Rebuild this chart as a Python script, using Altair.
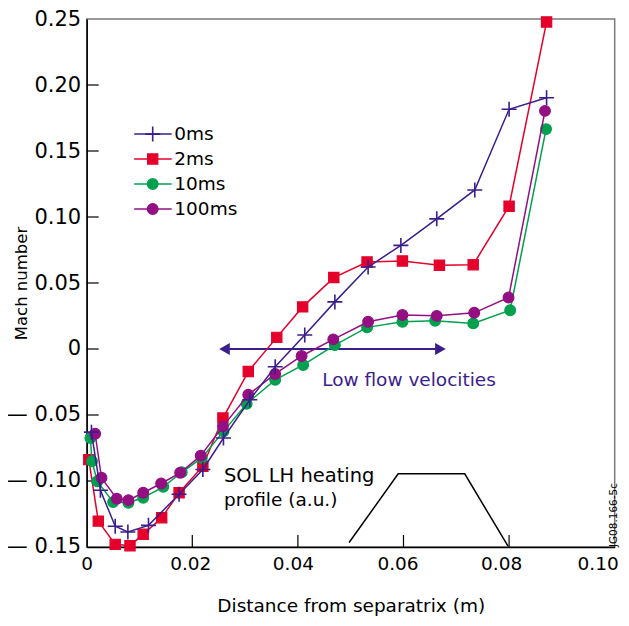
import altair as alt
import pandas as pd

# ---------------- data ----------------
series_names = ["0ms", "2ms", "10ms", "100ms"]
series_colors = ["#3b1e8c", "#e4002b", "#00a04e", "#930f82"]

x_0ms = [0.0009, 0.0026, 0.0054, 0.0078, 0.0117, 0.0175, 0.0220, 0.0259, 0.0309, 0.0357,
         0.0413, 0.0470, 0.0533, 0.0595, 0.0663, 0.0735, 0.0800, 0.0871]
y_0ms = [-0.063, -0.107, -0.1343, -0.1386, -0.1336, -0.110, -0.0913, -0.0674, -0.0385, -0.0134,
         0.0106, 0.0357, 0.0621, 0.0785, 0.0986, 0.1205, 0.1816, 0.1904]

x_2ms = [0.0004, 0.0022, 0.0054, 0.0082, 0.0107, 0.0142, 0.0175, 0.0220, 0.0258, 0.0306,
         0.0360, 0.0409, 0.0468, 0.0531, 0.0598, 0.0668, 0.0732, 0.0800, 0.0871]
y_2ms = [-0.0838, -0.1304, -0.148, -0.149, -0.1404, -0.1278, -0.1089, -0.0888, -0.0523, -0.0171,
         0.0088, 0.0319, 0.0541, 0.0659, 0.0667, 0.0634, 0.0639, 0.1082, 0.2478]

x_10ms = [0.0007, 0.0010, 0.0020, 0.0050, 0.0079, 0.0107, 0.0145, 0.0180, 0.0218, 0.0259,
          0.0303, 0.0357, 0.0410, 0.0470, 0.0531, 0.0598, 0.0660, 0.0732, 0.0802, 0.0870]
y_10ms = [-0.0674, -0.0851, -0.1002, -0.116, -0.1165, -0.1127, -0.1044, -0.0934, -0.0825, -0.0624,
          -0.0415, -0.0234, -0.0121, 0.003, 0.0164, 0.0206, 0.0214, 0.0194, 0.0294, 0.1666]

x_100ms = [0.0016, 0.0028, 0.0057, 0.0079, 0.0107, 0.0141, 0.0177, 0.0216, 0.0258, 0.0306,
           0.0357, 0.0407, 0.0467, 0.0533, 0.0598, 0.0663, 0.0734, 0.0799, 0.0868]
y_100ms = [-0.0642, -0.0976, -0.1134, -0.1145, -0.1089, -0.1019, -0.0938, -0.0808, -0.0586, -0.0347,
           -0.0189, -0.0053, 0.0073, 0.0206, 0.0257, 0.0251, 0.0274, 0.039, 0.1804]

heat_x = [0.0497, 0.0590, 0.0716, 0.0798]
heat_y = [-0.1466, -0.0946, -0.0946, -0.1494]

arrow_x = [0.0255, 0.0675]
arrow_y = [0.0, 0.0]

x_ticks = [0.0, 0.02, 0.04, 0.06, 0.08, 0.10]
y_ticks = [-0.15, -0.10, -0.05, 0.0, 0.05, 0.10, 0.15, 0.20, 0.25]

FONT = "DejaVu Sans"
INDIGO = "#3b1e8c"
PLUS = "M-1,0H1M0,-1V1"

# ---------------- encodings ----------------
X = alt.X(
    "x:Q",
    scale=alt.Scale(domain=[0, 0.1], nice=False, zero=False),
    axis=alt.Axis(
        values=x_ticks, ticks=False, grid=False, labelFlush=False,
        labelExpr="datum.value == 0 ? '0' : format(datum.value, '.2f')",
        labelOffset={"condition": [
            {"test": "datum.value > 0.09", "value": -17},
            {"test": "datum.value > 0.07", "value": -8},
            {"test": "datum.value > 0.05", "value": -6},
            {"test": "datum.value > 0.03", "value": -5},
            {"test": "datum.value > 0.01", "value": -2},
        ], "value": 0},
        labelFont=FONT, labelFontSize=18.5, labelColor="black", labelPadding=8,
        domainColor="black", domainWidth=1.5,
        title="Distance from separatrix (m)", titleFont=FONT, titleFontSize=18.5,
        titleFontWeight="normal", titleColor="black",
        titleX=264, titleY=59, titleBaseline="middle", titleAlign="center",
    ),
)
Y = alt.Y(
    "y:Q",
    scale=alt.Scale(domain=[-0.15, 0.25], nice=False, zero=False),
    axis=alt.Axis(
        values=y_ticks, ticks=False, grid=False, labelFlush=False,
        labelExpr="datum.value == 0 ? '0' : (datum.value < 0 ? '\u2014\u2008' + format(-datum.value, '.2f') : format(datum.value, '.2f'))",
        labelFont=FONT, labelFontSize=21, labelColor="black", labelPadding=6,
        domainColor="black", domainWidth=1.5,
        title="Mach number", titleFont=FONT, titleFontSize=16.5,
        titleFontWeight="normal", titleColor="black",
        titleX=-64.7, titleY=264, titleBaseline="middle", titleAlign="center", titleAngle=270,
    ),
)

layers = []

# inward tick marks
xt = pd.DataFrame({"x": x_ticks[1:-1]})
yt = pd.DataFrame({"y": y_ticks[1:-1]})
layers.append(alt.Chart(xt).mark_rule(color="black", strokeWidth=1.2).encode(
    x=X, y=alt.value(528), y2=alt.value(516)))
layers.append(alt.Chart(yt).mark_rule(color="black", strokeWidth=1.2).encode(
    y=Y, x=alt.value(0), x2=alt.value(12)))

# heating profile
heat = pd.DataFrame({"x": heat_x, "y": heat_y, "i": list(range(len(heat_x)))})
layers.append(alt.Chart(heat).mark_line(color="black", strokeWidth=1.5).encode(
    x=X, y=Y, order="i:Q"))

# arrow
arr = pd.DataFrame({"x": arrow_x, "y": arrow_y})
layers.append(alt.Chart(arr).mark_line(color=INDIGO, strokeWidth=2).encode(x=X, y=Y))
heads = pd.DataFrame({"x": [0.0261, 0.0670], "y": arrow_y,
                      "s": ["triangle-left", "triangle-right"]})
layers.append(alt.Chart(heads).mark_point(filled=True, color=INDIGO, size=150, opacity=1).encode(
    x=X, y=Y,
    shape=alt.Shape("s:N", scale=alt.Scale(domain=["triangle-left", "triangle-right"],
                                            range=["triangle-left", "triangle-right"]), legend=None)))

# series
series_data = {
    "0ms": (x_0ms, y_0ms, PLUS, 225),
    "2ms": (x_2ms, y_2ms, "square", 105),
    "10ms": (x_10ms, y_10ms, "circle", 115),
    "100ms": (x_100ms, y_100ms, "circle", 115),
}
color_of = dict(zip(series_names, series_colors))


def point_mark(shape, size, color):
    if shape == PLUS:
        return dict(shape=shape, filled=False, color=color, strokeWidth=1.6, size=size, opacity=1)
    return dict(shape=shape, filled=True, fill=color, stroke=color, strokeWidth=1.2, size=size, opacity=1)


for name in ["2ms", "10ms", "100ms", "0ms"]:
    xs, ys, shape, size = series_data[name]
    color = color_of[name]
    df = pd.DataFrame({"x": xs, "y": ys, "i": list(range(len(xs)))})
    base = alt.Chart(df)
    layers.append(base.mark_line(color=color, strokeWidth=1.5).encode(x=X, y=Y, order="i:Q"))
    layers.append(base.mark_point(**point_mark(shape, size, color)).encode(x=X, y=Y))

# legend (inside plot)
for k, name in enumerate(series_names):
    xs, ys, shape, size = series_data[name]
    color = color_of[name]
    ldf = pd.DataFrame({"label": [name]})
    ly = 0.1628 - 0.0189 * k
    lb = alt.Chart(ldf).transform_calculate(y=f"{ly}")
    layers.append(lb.transform_calculate(x="0.0090", x2="0.0161").mark_rule(
        color=color, strokeWidth=1.5).encode(x=X, x2="x2:Q", y=Y))
    layers.append(lb.transform_calculate(x="0.0125").mark_point(
        **point_mark(shape, size, color)).encode(x=X, y=Y))
    layers.append(lb.transform_calculate(x="0.0166").mark_text(
        align="left", baseline="middle", font=FONT, fontSize=18.5, color="black").encode(
        x=X, y=Y, text="label:N"))

# annotations
ann = pd.DataFrame({
    "x": [0.0446, 0.0260, 0.0260],
    "y": [-0.0232, -0.0965, -0.1144],
    "t": ["Low flow velocities", "SOL LH heating", "profile (a.u.)"],
    "c": ["low", "sol", "sol"],
    "s": [18.5, 19.5, 18.5],
})
layers.append(alt.Chart(ann).mark_text(
    align="left", baseline="middle", font=FONT).encode(
    x=X, y=Y, text="t:N",
    size=alt.Size("s:Q", scale=None, legend=None),
    color=alt.Color("c:N", scale=alt.Scale(domain=["low", "sol"], range=[INDIGO, "black"]), legend=None)))

code = pd.DataFrame({"x": [0.0998], "y": [-0.1258], "t": ["JG08.166-5c"]})
layers.append(alt.Chart(code).mark_text(
    angle=270, align="center", baseline="middle", font=FONT, fontSize=10.5, color="black").encode(
    x=X, y=Y, text="t:N"))

chart = alt.layer(*layers).properties(
    width=528, height=528,
    autosize=alt.AutoSizeParams(type="none"),
    padding={"left": 78.7, "top": 11, "right": 6, "bottom": 70},
).configure_view(stroke="#7a7a7a", strokeWidth=1.5)

chart.save("out.html", embed_options={"renderer": "svg", "actions": False})
